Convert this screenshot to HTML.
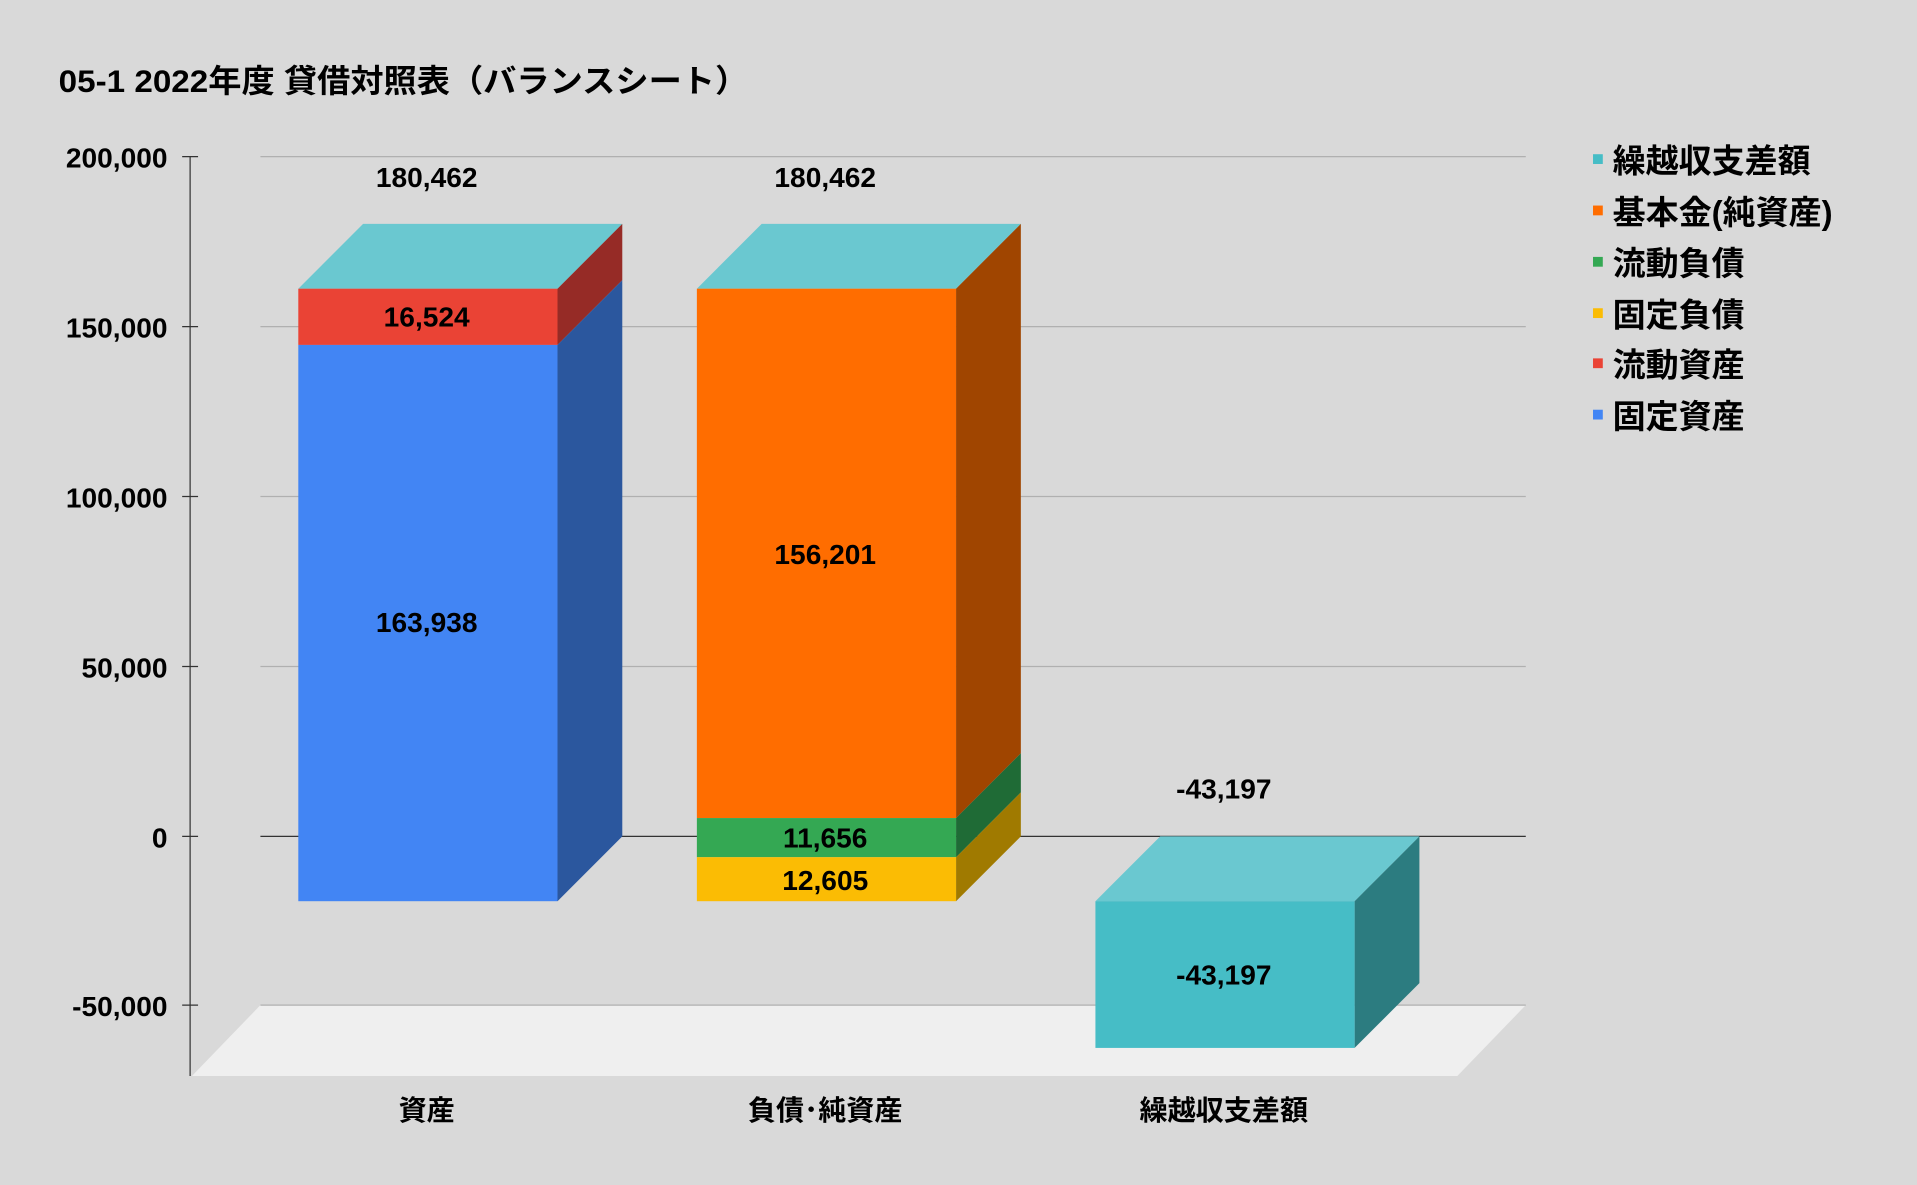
<!DOCTYPE html>
<html><head><meta charset="utf-8"><style>
html,body{margin:0;padding:0;background:#d9d9d9;}
svg{display:block}
text{font-family:"Liberation Sans","Noto Sans CJK JP",sans-serif;font-weight:bold;fill:#000}
</style></head><body>
<svg width="1917" height="1185" viewBox="0 0 1568 969" xmlns="http://www.w3.org/2000/svg">
<rect width="1568" height="969" fill="#d9d9d9"/>
<text x="48" y="75" font-size="26" textLength="564" lengthAdjust="spacingAndGlyphs">05-1 2022年度 貸借対照表（バランスシート）</text>
<polygon points="213,822 1248,822 1192,880 157,880" fill="#efefef"/>
<g stroke="#b0b0b0" stroke-width="1">
<line x1="213" y1="128" x2="1248" y2="128"/>
<line x1="213" y1="267" x2="1248" y2="267"/>
<line x1="213" y1="406" x2="1248" y2="406"/>
<line x1="213" y1="545" x2="1248" y2="545"/>
<line x1="213" y1="822" x2="1248" y2="822"/>
</g>
<line x1="213" y1="684" x2="1248" y2="684" stroke="#333" stroke-width="1"/>
<g stroke="#333" stroke-width="1">
<line x1="155.5" y1="128" x2="155.5" y2="880"/>
<line x1="149" y1="128" x2="162" y2="128"/>
<line x1="149" y1="267" x2="162" y2="267"/>
<line x1="149" y1="406" x2="162" y2="406"/>
<line x1="149" y1="545" x2="162" y2="545"/>
<line x1="149" y1="684" x2="162" y2="684"/>
<line x1="149" y1="822" x2="162" y2="822"/>
</g>
<g font-size="23" text-anchor="end">
<text x="137" y="137">200,000</text>
<text x="137" y="276">150,000</text>
<text x="137" y="415">100,000</text>
<text x="137" y="554">50,000</text>
<text x="137" y="693">0</text>
<text x="137" y="831">-50,000</text>
</g>
<polygon points="244,236 297,183 509,183 456,236" fill="#6ac8d0"/>
<polygon points="456,236 509,183 509,229 456,282" fill="#962b26"/>
<polygon points="456,282 509,229 509,684 456,737" fill="#2b579e"/>
<rect x="244" y="236" width="212" height="46" fill="#ea4335"/>
<rect x="244" y="282" width="212" height="455" fill="#4285f4"/>
<polygon points="570,236 623,183 835,183 782,236" fill="#6ac8d0"/>
<polygon points="782,236 835,183 835,616 782,669" fill="#a04500"/>
<polygon points="782,669 835,616 835,648 782,701" fill="#1f6b36"/>
<polygon points="782,701 835,648 835,684 782,737" fill="#a07a00"/>
<rect x="570" y="236" width="212" height="433" fill="#ff6d00"/>
<rect x="570" y="669" width="212" height="32" fill="#34a853"/>
<rect x="570" y="701" width="212" height="36" fill="#fbbc04"/>
<polygon points="896,737 949,684 1161,684 1108,737" fill="#6ac8d0"/>
<polygon points="1108,737 1161,684 1161,804 1108,857" fill="#2c7c80"/>
<rect x="896" y="737" width="212" height="120" fill="#46bdc6"/>
<g font-size="23" text-anchor="middle">
<text x="349" y="153">180,462</text>
<text x="675" y="153">180,462</text>
<text x="349" y="267">16,524</text>
<text x="349" y="517">163,938</text>
<text x="675" y="461">156,201</text>
<text x="675" y="693">11,656</text>
<text x="675" y="728">12,605</text>
<text x="1001" y="653">-43,197</text>
<text x="1001" y="805">-43,197</text>
<text x="349" y="916">資産</text>
<text x="675" y="916">負債･純資産</text>
<text x="1001" y="916">繰越収支差額</text>
</g>
<g font-size="27">
<rect x="1303" y="126" width="8" height="8" fill="#46bdc6"/><text x="1319" y="141">繰越収支差額</text>
<rect x="1303" y="168" width="8" height="8" fill="#ff6d00"/><text x="1319" y="183">基本金(純資産)</text>
<rect x="1303" y="210" width="8" height="8" fill="#34a853"/><text x="1319" y="225">流動負債</text>
<rect x="1303" y="252" width="8" height="8" fill="#fbbc04"/><text x="1319" y="267">固定負債</text>
<rect x="1303" y="293" width="8" height="8" fill="#ea4335"/><text x="1319" y="308">流動資産</text>
<rect x="1303" y="335" width="8" height="8" fill="#4285f4"/><text x="1319" y="350">固定資産</text>
</g>
</svg>
</body></html>
